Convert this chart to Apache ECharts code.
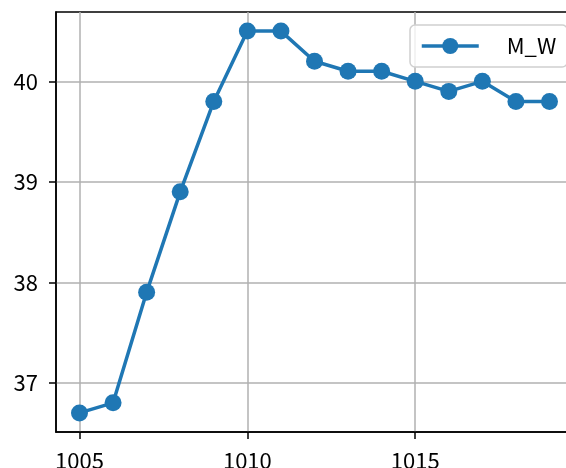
<!DOCTYPE html>
<html>
<head>
<meta charset="utf-8">
<script src="https://cdn.jsdelivr.net/npm/echarts@6/dist/echarts.min.js"></script>
<style>html,body{margin:0;padding:0;background:#fff;}#c{width:566px;height:468px;}</style>
</head>
<body>
<div id="c"></div>
<script>
var xValues = [1005,1006,1007,1008,1009,1010,1011,1012,1013,1014,1015,1016,1017,1018,1019];
var mwValues = [36.7,36.8,37.9,38.9,39.8,40.5,40.5,40.2,40.1,40.1,40.0,39.9,40.0,39.8,39.8];
var xTicks = [1005,1010,1015];
var yTicks = [37,38,39,40];
var seriesName = 'M_W';

var FONT = '"Noto Sans CJK JP", "Noto Sans", sans-serif';
var chart = echarts.init(document.getElementById('c'), null, {renderer:'canvas'});
chart.setOption({
  animation: false,
  backgroundColor: '#fff',
  grid: {left: 56, width: 517, top: 12, height: 420, outerBoundsMode: 'none', containLabel: false,
    show: true, borderColor: '#000', borderWidth: 1.5, backgroundColor: 'transparent'},
  xAxis: {
    type: 'value', min: 1004.3, max: 1019.7,
    axisLine: {show: true, onZero: false, lineStyle: {color: '#000', width: 1.5}},
    axisTick: {show: true, inside: false, length: 7, customValues: xTicks, lineStyle: {color: '#000', width: 1.5}},
    axisLabel: {customValues: xTicks, margin: 18, color: '#000', fontSize: 22, fontFamily: FONT,
      formatter: function(v){ return String(Math.round(v)); }},
    splitLine: {show: true, lineStyle: {color: '#b0b0b0', width: 1.5}}
  },
  yAxis: {
    type: 'value', min: 36.51, max: 40.69,
    axisLine: {show: true, onZero: false, lineStyle: {color: '#000', width: 1.5}},
    axisTick: {show: true, inside: false, length: 7, customValues: yTicks, lineStyle: {color: '#000', width: 1.5}},
    axisLabel: {customValues: yTicks, margin: 18, color: '#000', fontSize: 22, fontFamily: FONT,
      formatter: function(v){ return String(Math.round(v)); }},
    splitLine: {show: true, lineStyle: {color: '#b0b0b0', width: 1.5}}
  },
  legend: {
    show: true, left: 410, top: 25,
    padding: [10, 11, 10, 10],
    itemWidth: 57, itemHeight: 20,
    borderColor: '#d0d0d0', borderWidth: 1.5, borderRadius: 5,
    backgroundColor: 'rgba(255,255,255,0.8)',
    lineStyle: {width: 3.5},
    textStyle: {fontSize: 22, color: '#000', fontFamily: FONT, padding: [0, 0, 0, 23]},
    data: [seriesName]
  },
  series: [{
    name: seriesName, type: 'line',
    data: xValues.map(function(x, i){ return [x, mwValues[i]]; }),
    symbol: 'circle', symbolSize: 17,
    itemStyle: {color: '#1f77b4'},
    lineStyle: {color: '#1f77b4', width: 3.5},
    clip: false
  }]
});
</script>
</body>
</html>
